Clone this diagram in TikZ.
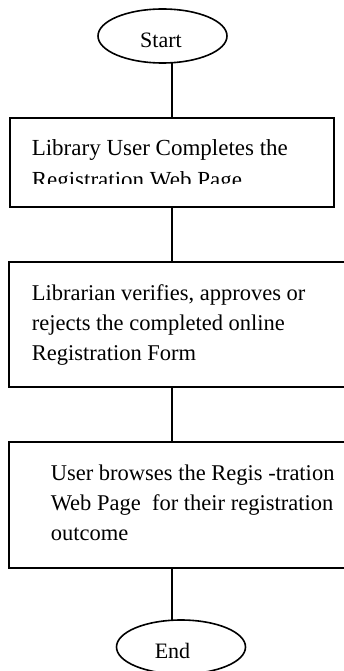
\documentclass[tikz,border=0pt]{standalone}
\usepackage{fontspec}
\setmainfont{Liberation Serif}
\usetikzlibrary{shapes.geometric}

\begin{document}
\begin{tikzpicture}[x=1pt,y=-1pt,line width=1.6pt,
 terminal/.style={ellipse,draw,minimum width=129pt,minimum height=54pt,inner sep=0pt,outer sep=0pt},
 stepbox/.style={rectangle,draw,inner sep=0pt,outer sep=0pt},
 steptext/.style={align=left,inner sep=0pt,anchor=west,font=\fontsize{22.5}{30}\selectfont},
 termtext/.style={inner sep=0pt,font=\fontsize{22}{26}\selectfont}]
\useasboundingbox (0,0) rectangle (344,671);
% start and end of the flow
\node[terminal] (start) at (162.5,36) {};
\node[termtext] (starttext) at (161,40) {Start};
\node[terminal] (end) at (181,647) {};
\node[termtext] (endtext) at (172.5,651) {End};
% the three steps
\node[stepbox,minimum width=324pt,minimum height=89pt] (box1) at (172,162.5) {};
\node[stepbox,minimum width=351pt,minimum height=125pt] (box2) at (184.5,324.5) {};
\node[stepbox,minimum width=351pt,minimum height=126pt] (box3) at (184.5,505) {};
\begin{scope}
 \clip (box1.north west) rectangle ([yshift=-65pt]box1.north east);
 \node[steptext,font=\fontsize{23}{32}\selectfont] (text1) at (31,166)
  {Library User Completes the\\Registration Web Page};
\end{scope}
\node[steptext] (text2) at (31,325)
 {Librarian verifies, approves or\\rejects the completed online\\Registration Form};
\node[steptext] (text3) at (50,503)
 {User browses the Regis -tration\\Web Page \ for their registration\\outcome};
% connectors down the middle
\draw (box1.north |- start.south) -- (box1.north);
\draw (box1.south) -- (box1.south |- box2.north);
\draw (box1.south |- box2.south) -- (box1.south |- box3.north);
\draw (box1.south |- box3.south) -- (box1.south |- end.north);
\end{tikzpicture}
\end{document}
